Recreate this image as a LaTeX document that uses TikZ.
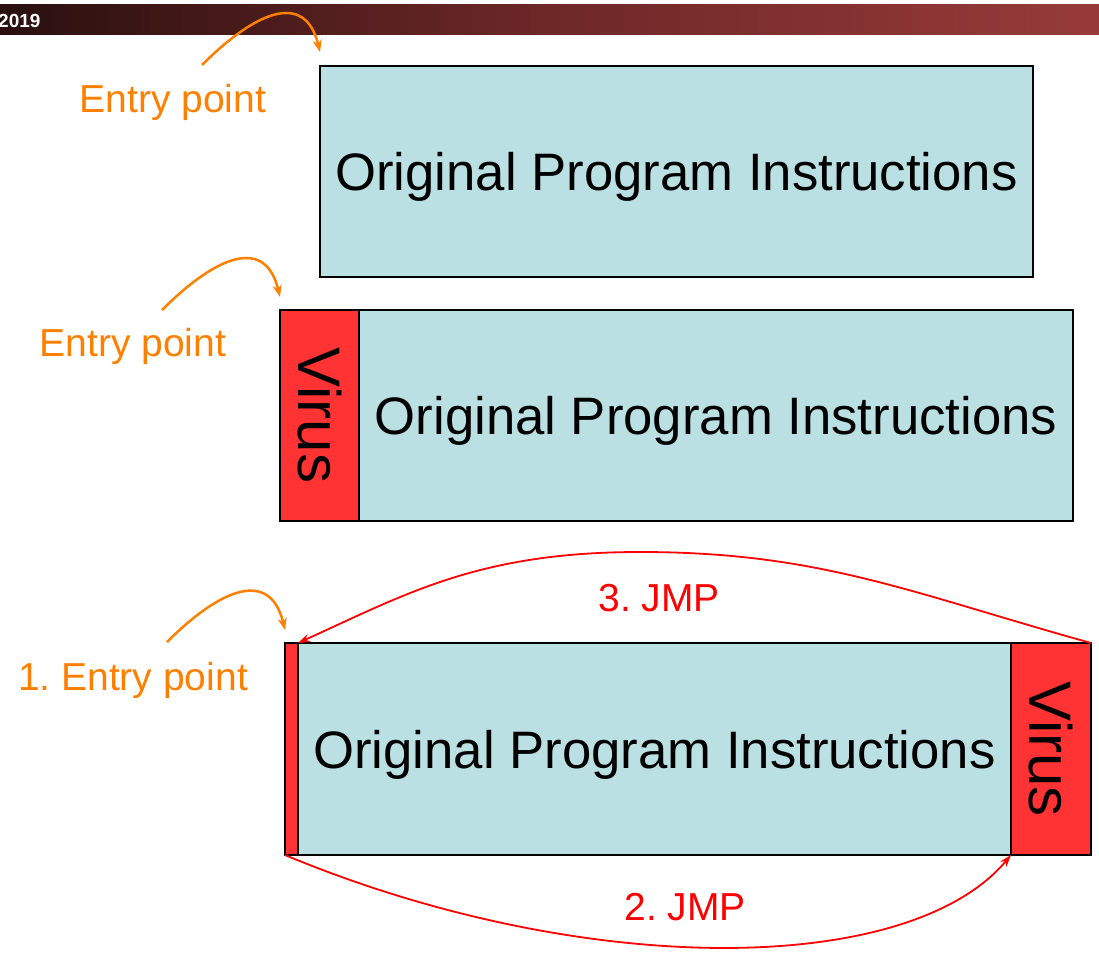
\documentclass[tikz,border=0pt]{standalone}
\usepackage{fontspec}
\setmainfont{Liberation Sans}
\usetikzlibrary{arrows.meta}
\definecolor{progfill}{HTML}{BAE0E3}
\definecolor{virusred}{HTML}{FF3333}
\definecolor{entryorange}{HTML}{FF8000}
\definecolor{jmpred}{HTML}{FF0000}
\definecolor{barleft}{HTML}{2A0F0F}
\definecolor{barmid}{HTML}{6E2828}
\definecolor{barright}{HTML}{973B39}

\begin{document}
\frenchspacing
\begin{tikzpicture}[x=1pt,y=-1pt,
  block/.style={draw=black, line width=2.5pt, inner sep=0pt, outer sep=0pt, anchor=north west},
  prog/.style={block, fill=progfill, text depth=0pt, font=\fontsize{52.7}{60}\selectfont},
  virus/.style={block, fill=virusred},
  virustext/.style={rotate=-90, inner sep=0pt, font=\fontsize{60}{66}\selectfont},
  entry/.style={text=entryorange, inner sep=0pt, font=\fontsize{39}{45}\selectfont},
  entryarrow/.style={draw=entryorange, line width=2.5pt, -{Stealth[length=12pt,width=9pt]}},
  jmp/.style={draw=jmpred, line width=1.8pt, -{Stealth[length=12pt,width=8pt]}},
  jmplabel/.style={text=jmpred, inner sep=0pt, font=\fontsize{39}{45}\selectfont}
]
\useasboundingbox (0,0) rectangle (1099,955);

% title bar
\shade[left color=barleft, right color=barright, middle color=barmid] (0,5) rectangle (1099,35);
\node[anchor=west, text=white, inner sep=0pt, font=\fontsize{19}{22}\selectfont\bfseries] (year) at (-2,21) {2019};

% original program
\node[prog, minimum width=713pt, minimum height=211pt] (p1) at (320,66) {Original Program Instructions};
\coordinate (e1start) at (202,65);
\coordinate (e1end) at (320,52);
\node[entry] (e1) at (173,102) {Entry point};
\draw[entryarrow] (e1start) .. controls +(53,-53) and +(-15,-62) .. (e1end);

% virus prepended
\node[virus, minimum width=79pt, minimum height=211pt] (v2) at (280,310) {};
\node[prog, minimum width=714pt, minimum height=211pt] (p2) at (359,310) {Original Program Instructions};
\node[virustext] (v2t) at (v2.center) {Virus};
\coordinate (e2start) at (162,310);
\coordinate (e2end) at (280,297);
\node[entry] (e2) at (133,346) {Entry point};
\draw[entryarrow] (e2start) .. controls +(53,-53) and +(-15,-62) .. (e2end);

% virus appended with jump stub
\node[virus, minimum width=13pt, minimum height=212pt] (v3a) at (285,643) {};
\node[prog, minimum width=713pt, minimum height=212pt] (p3) at (298,643) {Original Program Instructions};
\node[virus, minimum width=80pt, minimum height=212pt] (v3b) at (1011,643) {};
\node[virustext] (v3t) at (v3b.center) {Virus};
\coordinate (e3start) at (167,642);
\coordinate (e3end) at (285,630);
\node[entry] (e3) at (133,680) {1. Entry point};
\draw[entryarrow] (e3start) .. controls +(53,-53) and +(-15,-62) .. (e3end);

% jumps
\coordinate (jtop) at (640,552);
\draw[jmp] (v3a.south west) .. controls +(295,123) and +(-103,123) .. (v3b.south west);
\node[jmplabel] (j2) at (685,907) {2. JMP};
\draw[jmp] (v3b.north east) .. controls +(-180,-50) and +(180,0) .. (jtop)
  .. controls +(-160,0) and +(110,-50) .. (p3.north west);
\node[jmplabel] (j3) at (659,598) {3. JMP};
\end{tikzpicture}
\end{document}
